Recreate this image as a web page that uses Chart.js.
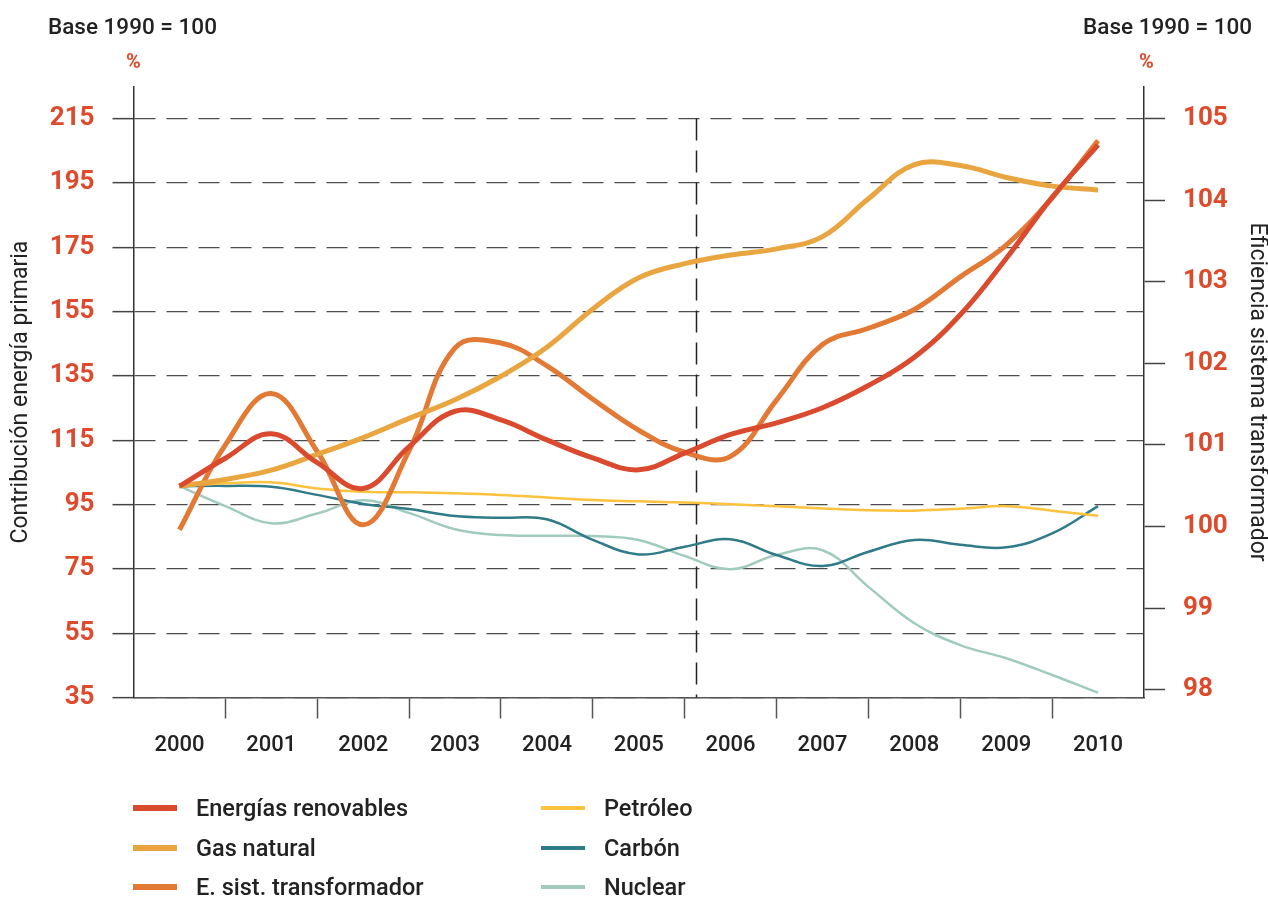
<!DOCTYPE html>
<html lang="es">
<head>
<meta charset="utf-8">
<title>Contribución energía primaria y eficiencia del sistema transformador</title>
<script src="https://cdn.jsdelivr.net/npm/chart.js@4.4.1/dist/chart.umd.min.js"></script>
<style>
    body { margin: 0; background: #fff; }
    #wrap { position: relative; width: 1268px; height: 897px; font-family: Roboto, "Noto Sans", sans-serif; color: #222; }
    #chart { position: absolute; left: 0; top: 0; }
    .note { position: absolute; font-size: 22.5px; font-weight: 500; line-height: 26px; white-space: nowrap; }
    .pct { position: absolute; font-size: 20px; line-height: 22px; font-weight: bold; color: #dd4a2c; }
    .leg-item { position: absolute; height: 30px; display: flex; align-items: center; font-size: 23.5px; font-weight: 500; white-space: nowrap; }
    .leg-swatch { width: 44px; margin-right: 19px; }
</style>
</head>
<body>
<div id="wrap">
    <canvas id="chart" width="1268" height="897"></canvas>
    <div class="note" style="left:48px; top:13px;">Base 1990 = 100</div>
    <div class="note" style="right:16px; top:13px;">Base 1990 = 100</div>
    <div class="pct" style="left:126px; top:50px;">%</div>
    <div class="pct" style="left:1139px; top:50px;">%</div>
    <div id="legend"></div>
</div>
<script>
// half-year points
const periods = [2000, 2000.5, 2001, 2001.5, 2002, 2002.5, 2003, 2003.5, 2004, 2004.5, 2005,
                 2005.5, 2006, 2006.5, 2007, 2007.5, 2008, 2008.5, 2009, 2009.5, 2010];
const yearLabels = ['2000', '2001', '2002', '2003', '2004', '2005', '2006', '2007', '2008', '2009', '2010'];

const renovables = [100.7, 109.4, 117, 108, 100, 113, 124, 121.3, 115.1, 109.5, 105.8,
                    111, 116.8, 120.4, 125.1, 132, 140.8, 154, 171.5, 190.5, 206.8];
const gasNatural = [100.7, 102.8, 105.7, 110.6, 115.8, 121.8, 127.6, 134.9, 143.9, 155.8, 165.5,
                    169.9, 172.6, 174.5, 178.3, 190.1, 200.7, 200.4, 196.7, 194, 192.8];
// right axis
const eSistTransformador = [99.96, 101.0, 101.63, 100.92, 100.02, 100.93, 102.19, 102.25, 101.97, 101.56, 101.18,
                            100.91, 100.86, 101.55, 102.23, 102.43, 102.66, 103.06, 103.45, 104.03, 104.73];
const petroleo = [100.7, 101.6, 101.9, 100.0, 99.0, 98.8, 98.5, 98.0, 97.2, 96.4, 96.0,
                  95.6, 95.1, 94.5, 93.8, 93.2, 93.1, 93.7, 94.5, 93.1, 91.5];
const carbon = [100.7, 100.8, 100.5, 98.0, 95.2, 93.6, 91.4, 90.9, 90.4, 84.0, 79.5,
                81.9, 84.2, 79.3, 75.9, 80.3, 84.0, 82.5, 81.7, 86.0, 94.5];
const nuclear = [100.7, 94.5, 89.2, 92.2, 96.3, 92.4, 87.3, 85.5, 85.3, 85.2, 84.0,
                 79.0, 74.9, 79.3, 80.8, 69.4, 58.1, 51.3, 47.2, 42.0, 36.5];

const leftTicks = [35, 55, 75, 95, 115, 135, 155, 175, 195, 215];
const rightTicks = [98, 99, 100, 101, 102, 103, 104, 105];
const markerYear = 2005.62;

const series = [
    { label: 'Energías renovables', data: renovables, color: '#d94a2e', width: 5, axis: 'y' },
    { label: 'Gas natural', data: gasNatural, color: '#e8a540', width: 5, axis: 'y' },
    { label: 'E. sist. transformador', data: eSistTransformador, color: '#e27a35', width: 5, axis: 'y1' },
    { label: 'Petróleo', data: petroleo, color: '#fdc23e', width: 2.5, axis: 'y' },
    { label: 'Carbón', data: carbon, color: '#2f7b88', width: 2.5, axis: 'y' },
    { label: 'Nuclear', data: nuclear, color: '#a0cbbd', width: 2.5, axis: 'y' }
];

const xTicks = [];
yearLabels.forEach(y => { xTicks.push(Number(y) - 0.5, Number(y)); });
xTicks.push(Number(yearLabels[yearLabels.length - 1]) + 0.5);

const red = '#dd4a2c';

const markerLine = {
    id: 'markerLine',
    beforeDatasetsDraw(chart) {
        const { ctx, scales: { x, y } } = chart;
        const px = Math.round(x.getPixelForValue(markerYear)) + 0.5;
        ctx.save();
        ctx.strokeStyle = '#222';
        ctx.lineWidth = 1.5;
        ctx.setLineDash([22, 10]);
        ctx.beginPath();
        ctx.moveTo(px, y.getPixelForValue(leftTicks[leftTicks.length - 1]));
        ctx.lineTo(px, y.bottom);
        ctx.stroke();
        ctx.restore();
    }
};

Chart.defaults.font.family = 'Roboto, "Noto Sans", sans-serif';

new Chart(document.getElementById('chart'), {
    type: 'line',
    data: {
        datasets: series.map(s => ({
            label: s.label,
            data: s.data.map((v, i) => ({ x: periods[i], y: v })),
            borderColor: s.color,
            borderWidth: s.width,
            yAxisID: s.axis,
            pointRadius: 0,
            fill: false,
            tension: 0.4
        }))
    },
    options: {
        responsive: false,
        animation: false,
        layout: { padding: { left: 0, right: 0, top: 86.7, bottom: 119.5 } },
        plugins: { legend: { display: false }, tooltip: { enabled: false } },
        scales: {
            x: {
                type: 'linear',
                min: xTicks[0],
                max: xTicks[xTicks.length - 1],
                afterBuildTicks: s => { s.ticks = xTicks.map(v => ({ value: v })); },
                afterFit: s => { s.height = 80; },
                border: { color: '#555', width: 1.5 },
                grid: {
                    drawOnChartArea: false,
                    tickLength: 21,
                    tickWidth: 1.5,
                    tickColor: ctx => {
                        const v = ctx.tick ? ctx.tick.value : null;
                        if (v === null || Number.isInteger(v) || v === xTicks[0] || v === xTicks[xTicks.length - 1]) return 'rgba(0,0,0,0)';
                        return '#555';
                    }
                },
                ticks: {
                    autoSkip: false,
                    maxRotation: 0,
                    padding: 14,
                    color: '#222',
                    font: { size: 22, weight: '500' },
                    callback: v => yearLabels.includes(String(v)) ? String(v) : ''
                }
            },
            y: {
                position: 'left',
                min: 35,
                max: 224.92,
                afterBuildTicks: s => { s.ticks = leftTicks.map(v => ({ value: v })); },
                afterFit: s => { s.width = 133.5; },
                border: { color: '#333', width: 1.5, dash: [21, 11] },
                grid: { color: '#4d4d4d', lineWidth: 1.3, tickLength: 21, tickColor: '#444', tickWidth: 1.5 },
                ticks: { padding: 18, color: red, font: { size: 26, weight: 'bold' } },
                title: {
                    display: true,
                    text: 'Contribución energía primaria',
                    color: '#222',
                    font: { size: 23, lineHeight: 1 },
                    padding: { top: 10, bottom: 0 }
                }
            },
            y1: {
                position: 'right',
                min: 97.904,
                max: 105.391,
                afterBuildTicks: s => { s.ticks = rightTicks.map(v => ({ value: v })); },
                afterFit: s => { s.width = 124; },
                border: { color: '#333', width: 1.5 },
                grid: { drawOnChartArea: false, tickLength: 21, tickColor: '#444', tickWidth: 1.5 },
                ticks: { padding: 18, color: red, font: { size: 26, weight: 'bold' } },
                title: {
                    display: true,
                    text: 'Eficiencia sistema transformador',
                    color: '#222',
                    font: { size: 23, lineHeight: 1 },
                    padding: { top: 0, bottom: 0 }
                }
            }
        }
    },
    plugins: [markerLine]
});

// legend, two columns of three
const legend = document.getElementById('legend');
const legendCols = [133, 541];
const legendRows = [808, 848, 887];
series.forEach((s, i) => {
    const item = document.createElement('div');
    item.className = 'leg-item';
    item.style.left = legendCols[Math.floor(i / 3)] + 'px';
    item.style.top = (legendRows[i % 3] - 15) + 'px';
    item.innerHTML = `<span class="leg-swatch" style="height:${s.width + 1}px;background:${s.color}"></span>${s.label}`;
    legend.appendChild(item);
});
</script>
</body>
</html>
